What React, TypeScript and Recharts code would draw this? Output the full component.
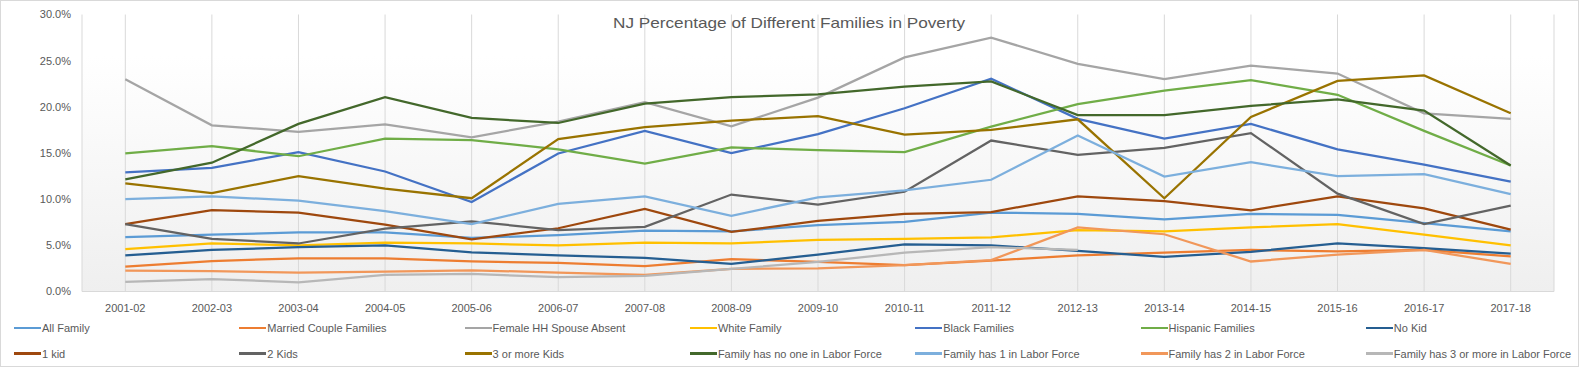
import { LineChart, Line, XAxis, YAxis, CartesianGrid } from 'recharts';

const categories = [
  '2001-02', '2002-03', '2003-04', '2004-05', '2005-06', '2006-07', '2007-08', '2008-09', '2009-10',
  '2010-11', '2011-12', '2012-13', '2013-14', '2014-15', '2015-16', '2016-17', '2017-18',
];

// poverty rates in %
const allFamily = [5.9, 6.15, 6.4, 6.4, 5.8, 6.1, 6.6, 6.5, 7.2, 7.55, 8.55, 8.4, 7.8, 8.4, 8.3, 7.4, 6.5];
const marriedCouple = [2.7, 3.3, 3.6, 3.6, 3.25, 3.1, 2.75, 3.5, 3.2, 2.85, 3.35, 3.9, 4.2, 4.5, 4.35, 4.5, 3.8];
const femaleHH = [23.0, 18.0, 17.3, 18.1, 16.7, 18.4, 20.5, 17.9, 21.0, 25.35, 27.5, 24.65, 23.0, 24.45, 23.6, 19.3, 18.7];
const whiteFamily = [4.6, 5.2, 5.0, 5.3, 5.2, 5.0, 5.3, 5.2, 5.6, 5.7, 5.85, 6.65, 6.5, 6.95, 7.3, 6.15, 5.0];
const blackFamilies = [12.9, 13.4, 15.1, 13.0, 9.7, 14.95, 17.4, 15.0, 17.05, 19.85, 23.05, 18.7, 16.55, 18.15, 15.4, 13.75, 11.9];
const hispanicFamilies = [14.95, 15.75, 14.65, 16.55, 16.4, 15.4, 13.85, 15.6, 15.3, 15.1, 17.85, 20.3, 21.75, 22.9, 21.3, 17.4, 13.65];
const noKid = [3.9, 4.5, 4.8, 5.0, 4.25, 3.9, 3.65, 3.0, 4.0, 5.1, 5.0, 4.4, 3.75, 4.3, 5.2, 4.7, 4.1];
const oneKid = [7.3, 8.8, 8.55, 7.25, 5.65, 6.85, 8.95, 6.45, 7.65, 8.4, 8.6, 10.3, 9.8, 8.8, 10.3, 9.0, 6.7];
const twoKids = [7.3, 5.7, 5.2, 6.8, 7.6, 6.65, 7.0, 10.5, 9.4, 10.8, 16.35, 14.8, 15.55, 17.15, 10.6, 7.3, 9.3];
const threePlusKids = [11.7, 10.65, 12.5, 11.15, 10.1, 16.5, 17.8, 18.5, 19.0, 17.0, 17.5, 18.65, 10.1, 18.9, 22.8, 23.4, 19.3];
const noneInLabor = [12.15, 13.95, 18.15, 21.05, 18.8, 18.25, 20.35, 21.05, 21.35, 22.2, 22.75, 19.1, 19.1, 20.1, 20.8, 19.6, 13.65];
const oneInLabor = [10.0, 10.3, 9.85, 8.7, 7.3, 9.5, 10.3, 8.2, 10.2, 10.95, 12.1, 16.9, 12.45, 14.0, 12.5, 12.7, 10.55];
const twoInLabor = [2.25, 2.2, 2.05, 2.15, 2.3, 2.05, 1.8, 2.45, 2.5, 2.85, 3.4, 6.95, 6.2, 3.25, 4.0, 4.5, 3.0];
const threePlusInLabor = [1.05, 1.35, 1.0, 1.8, 1.9, 1.55, 1.7, 2.45, 3.2, 4.2, 4.8, 4.5, null, null, null, null, null];

const yTicks = [0, 5, 10, 15, 20, 25, 30];

const SERIES = [
  { key: 'allFamily', name: 'All Family', color: '#5B9BD5', values: allFamily },
  { key: 'married', name: 'Married Couple Families', color: '#ED7D31', values: marriedCouple },
  { key: 'femaleHH', name: 'Female HH Spouse Absent', color: '#A5A5A5', values: femaleHH },
  { key: 'white', name: 'White Family', color: '#FFC000', values: whiteFamily },
  { key: 'black', name: 'Black Families', color: '#4472C4', values: blackFamilies },
  { key: 'hispanic', name: 'Hispanic Families', color: '#70AD47', values: hispanicFamilies },
  { key: 'noKid', name: 'No Kid', color: '#255E91', values: noKid },
  { key: 'oneKid', name: '1 kid', color: '#9E480E', values: oneKid },
  { key: 'twoKids', name: '2 Kids', color: '#636363', values: twoKids },
  { key: 'threeKids', name: '3 or more Kids', color: '#997300', values: threePlusKids },
  { key: 'noLabor', name: 'Family has no one in Labor Force', color: '#43682B', values: noneInLabor },
  { key: 'oneLabor', name: 'Family has 1 in Labor Force', color: '#7CAFDD', values: oneInLabor },
  { key: 'twoLabor', name: 'Family has 2 in Labor Force', color: '#F1975A', values: twoInLabor },
  { key: 'threeLabor', name: 'Family has 3 or more in Labor Force', color: '#B7B7B7', values: threePlusInLabor },
];

const data = categories.map((year, i) => {
  const row: Record<string, string | number | null> = { year };
  SERIES.forEach((s) => {
    row[s.key] = s.values[i];
  });
  return row;
});

const FONT = '"Liberation Sans", Arial, sans-serif';
const TEXT = '#595959';

export default function App() {
  return (
    <div
      style={{
        position: 'absolute',
        left: 0,
        top: 0,
        width: 1579,
        height: 367,
        background: '#fff',
        boxSizing: 'border-box',
        border: '1px solid #d9d9d9',
        fontFamily: FONT,
      }}
    >
      <svg width={0} height={0} style={{ position: 'absolute' }}>
        <defs>
          <linearGradient id="plotBg" x1="0" y1="0" x2="0" y2="1">
            <stop offset="0" stopColor="#ffffff" />
            <stop offset="0.15" stopColor="#ffffff" />
            <stop offset="1" stopColor="#efefef" />
          </linearGradient>
        </defs>
      </svg>

      <div style={{ position: 'absolute', left: -1, top: -1 }}>
        <LineChart
          width={1579}
          height={367}
          data={data}
          margin={{ top: 14.5, right: 25, bottom: 45.5, left: 12 }}
        >
          <CartesianGrid horizontal={false} stroke="#d9d9d9" fill="url(#plotBg)" />
          <XAxis
            dataKey="year"
            height={30}
            interval={0}
            padding={{ left: 43.3, right: 43.3 }}
            tickLine={false}
            tickSize={0}
            tickMargin={13}
            axisLine={{ stroke: '#d9d9d9' }}
            tick={{ fill: TEXT, fontSize: 11, fontFamily: FONT }}
          />
          <YAxis
            width={70}
            domain={[0, 30]}
            ticks={yTicks}
            tickFormatter={(v: number) => `${v.toFixed(1)}%`}
            axisLine={false}
            tickLine={false}
            tickSize={0}
            tickMargin={11}
            tick={{ fill: TEXT, fontSize: 11, fontFamily: FONT }}
          />
          {SERIES.map((s) => (
            <Line
              key={s.key}
              type="linear"
              dataKey={s.key}
              name={s.name}
              stroke={s.color}
              strokeWidth={2.25}
              dot={false}
              activeDot={false}
              isAnimationActive={false}
            />
          ))}
        </LineChart>
      </div>

      {/* title sits on top of the plot area */}
      <svg width={1579} height={40} style={{ position: 'absolute', left: -1, top: -1, pointerEvents: 'none' }}>
        <text
          x={789}
          y={28}
          textAnchor="middle"
          fontSize={15}
          fill={TEXT}
          fontFamily={FONT}
          textLength={352}
          lengthAdjust="spacingAndGlyphs"
        >
          NJ Percentage  of  Different  Families  in  Poverty
        </text>
      </svg>

      {/* legend, 7 columns x 2 rows */}
      {SERIES.map((s, i) => {
        const col = i % 7;
        const row = Math.floor(i / 7);
        return (
          <div
            key={s.key}
            style={{
              position: 'absolute',
              left: 13 + col * 225.3,
              top: 319 + row * 25.6,
              height: 16,
              display: 'flex',
              alignItems: 'center',
              whiteSpace: 'nowrap',
              fontSize: 11,
              color: TEXT,
            }}
          >
            <span
              style={{ display: 'inline-block', width: 27, height: 2.5, background: s.color, marginRight: 1 }}
            />
            {s.name}
          </div>
        );
      })}
    </div>
  );
}
